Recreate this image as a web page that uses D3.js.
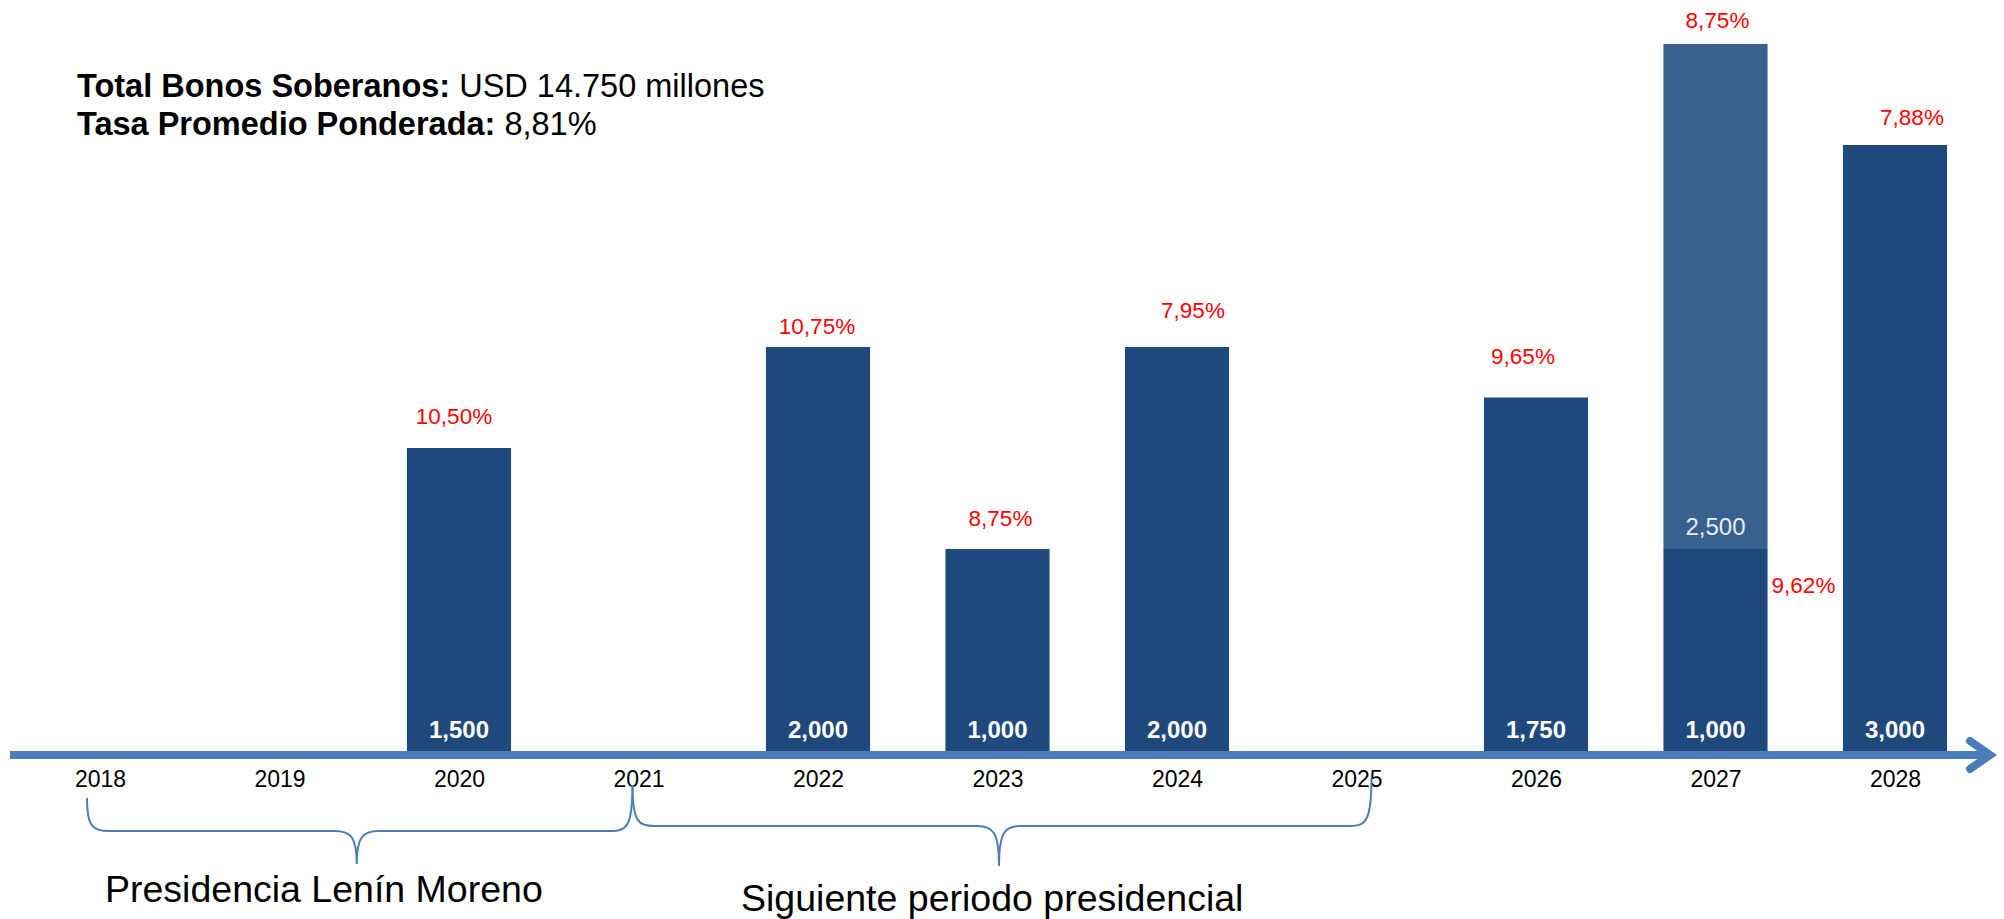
<!DOCTYPE html>
<html>
<head>
<meta charset="utf-8">
<script src="https://cdn.jsdelivr.net/npm/d3@7"></script>
<style>
  html, body { margin: 0; padding: 0; background: #ffffff; }
  svg { display: block; font-family: "Liberation Sans", Arial, sans-serif; }
</style>
</head>
<body>
<svg id="chart" width="2004" height="919"></svg>
<script>
// ---- data ----
const years = [2018, 2019, 2020, 2021, 2022, 2023, 2024, 2025, 2026, 2027, 2028];
const baseAmounts = [null, null, 1500, null, 2000, 1000, 2000, null, 1750, 1000, 3000];
const baseRates = ["", "", "10,50%", "", "10,75%", "8,75%", "7,95%", "", "9,65%", "9,62%", "7,88%"];
const upperAmounts = [null, null, null, null, null, null, null, null, null, 2500, null];
const upperRates = ["", "", "", "", "", "", "", "", "", "8,75%", ""];
const periods = [
  { from: 2018, to: 2021, label: "Presidencia Lenín Moreno" },
  { from: 2021, to: 2025, label: "Siguiente periodo presidencial" }
];
const summaryLines = [
  { bold: "Total Bonos Soberanos:", text: " USD 14.750 millones" },
  { bold: "Tasa Promedio Ponderada:", text: " 8,81%" }
];

// ---- layout (label nudges, px) ----
const baseRateNudge = [null, null, [-5, 24], null, [-1, 13], [3, 23], [16, 29], null, [-13, 34], [88, -44], [17, 20]];
const upperRateNudge = [null, null, null, null, null, null, null, null, null, [2, 16], null];

const svg = d3.select("#chart");
const axisY = 751;

const x = d3.scalePoint().domain(years).range([10.25, 1984.75]).padding(0.5);
const y = d3.scaleLinear().domain([0, 3500]).range([axisY, 44]);
const barW = x.step() * 0.58;

const dark = "#1f497d", light = "#38618f", axisCol = "#4a7ebb";

const rows = years.map((yr, i) => ({
  year: yr, base: baseAmounts[i], upper: upperAmounts[i],
  baseRate: baseRates[i], upperRate: upperRates[i],
  bn: baseRateNudge[i], un: upperRateNudge[i]
}));

// base bars
svg.append("g").selectAll("rect").data(rows.filter(d => d.base != null)).join("rect")
  .attr("x", d => x(d.year) - barW / 2)
  .attr("y", d => y(d.base))
  .attr("width", barW)
  .attr("height", d => y(0) - y(d.base))
  .attr("fill", dark);

// upper stacked bars
svg.append("g").selectAll("rect").data(rows.filter(d => d.upper != null)).join("rect")
  .attr("x", d => x(d.year) - barW / 2)
  .attr("y", d => y(d.base + d.upper))
  .attr("width", barW)
  .attr("height", d => y(d.base) - y(d.base + d.upper))
  .attr("fill", light);

// value labels inside bars (bottom)
svg.append("g").selectAll("text").data(rows.filter(d => d.base != null)).join("text")
  .attr("x", d => x(d.year))
  .attr("y", axisY - 13)
  .attr("text-anchor", "middle")
  .attr("font-size", 24).attr("font-weight", "bold").attr("fill", "#ffffff")
  .text(d => d3.format(",")(d.base));

// upper segment labels
svg.append("g").selectAll("text").data(rows.filter(d => d.upper != null)).join("text")
  .attr("x", d => x(d.year))
  .attr("y", d => y(d.base) - 14)
  .attr("text-anchor", "middle")
  .attr("font-size", 24).attr("fill", "#e8ecf2")
  .text(d => d3.format(",")(d.upper));

// rate labels
svg.append("g").selectAll("text").data(rows.filter(d => d.baseRate)).join("text")
  .attr("x", d => x(d.year) + d.bn[0])
  .attr("y", d => y(d.base) - d.bn[1])
  .attr("text-anchor", "middle")
  .attr("font-size", 22.5).attr("fill", "#ff0000")
  .text(d => d.baseRate);

svg.append("g").selectAll("text").data(rows.filter(d => d.upperRate)).join("text")
  .attr("x", d => x(d.year) + d.un[0])
  .attr("y", d => y(d.base + d.upper) - d.un[1])
  .attr("text-anchor", "middle")
  .attr("font-size", 22.5).attr("fill", "#ff0000")
  .text(d => d.upperRate);

// axis arrow
svg.append("line")
  .attr("x1", 10).attr("x2", 1988)
  .attr("y1", axisY + 4).attr("y2", axisY + 4)
  .attr("stroke", axisCol).attr("stroke-width", 8);
svg.append("path")
  .attr("d", `M1970,741 L1990,755 L1970,769`)
  .attr("fill", "none").attr("stroke", axisCol).attr("stroke-width", 8)
  .attr("stroke-linecap", "round").attr("stroke-linejoin", "miter");

// year labels via d3 axis
const ax = svg.append("g").attr("transform", `translate(0,${axisY})`)
  .call(d3.axisBottom(x).tickSize(0).tickPadding(20));
ax.select(".domain").remove();
ax.selectAll("text").attr("font-size", 23).attr("fill", "#000")
  .attr("font-family", "'Liberation Sans', Arial, sans-serif");

// braces
const braceGeo = [
  { x0: x(2018) - 13, x1: x(2021) - 6, yTop0: 798, yTop1: 785, yH: 831, yTip: 864 },
  { x0: x(2021) - 6, x1: x(2025) + 15, yTop0: 785, yTop1: 778, yH: 826, yTip: 866 }
];
const r = 22;
periods.forEach((p, i) => {
  const g = braceGeo[i];
  const xm = (g.x0 + g.x1) / 2 - 3;
  const d = [
    `M${g.x0},${g.yTop0}`,
    `C${g.x0},${g.yH - 4} ${g.x0 + 6},${g.yH} ${g.x0 + r},${g.yH}`,
    `L${xm - r},${g.yH}`,
    `C${xm - 6},${g.yH} ${xm},${g.yH + 6} ${xm},${g.yTip}`,
    `C${xm},${g.yH + 6} ${xm + 6},${g.yH} ${xm + r},${g.yH}`,
    `L${g.x1 - r},${g.yH}`,
    `C${g.x1 - 6},${g.yH} ${g.x1},${g.yH - 4} ${g.x1},${g.yTop1}`
  ].join(" ");
  svg.append("path").attr("d", d).attr("fill", "none")
    .attr("stroke", axisCol).attr("stroke-width", 2);
});

// period labels
svg.append("text").attr("x", 105).attr("y", 902)
  .attr("font-size", 37.5).attr("fill", "#000").text(periods[0].label);
svg.append("text").attr("x", 741).attr("y", 911)
  .attr("font-size", 37.5).attr("fill", "#000").text(periods[1].label);

// summary
const sum = svg.append("g");
summaryLines.forEach((l, i) => {
  const t = sum.append("text").attr("x", 77).attr("y", 97 + i * 38)
    .attr("font-size", 32.5).attr("fill", "#000");
  t.append("tspan").attr("font-weight", "bold").text(l.bold);
  t.append("tspan").text(l.text);
});
</script>
</body>
</html>
